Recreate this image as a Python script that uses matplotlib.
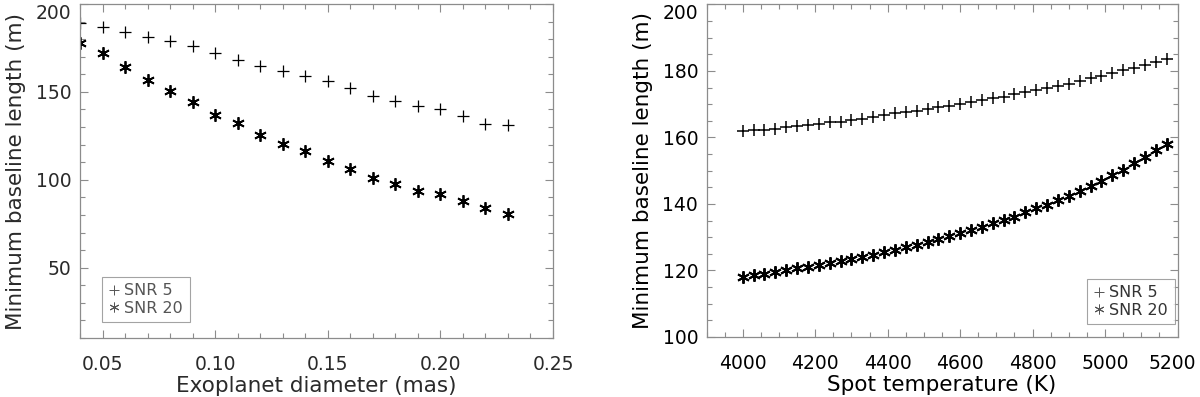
import matplotlib
matplotlib.use("Agg")
import matplotlib.pyplot as plt
from matplotlib.lines import Line2D
from matplotlib.ticker import MultipleLocator, FormatStrFormatter
from matplotlib.transforms import ScaledTranslation

# ---- data: left panel (exoplanet diameter) ----
diam_mas = [0.04, 0.05, 0.06, 0.07, 0.08, 0.09, 0.10, 0.11, 0.12, 0.13,
            0.14, 0.15, 0.16, 0.17, 0.18, 0.19, 0.20, 0.21, 0.22, 0.23]
diam_snr5 = [189.0, 187.1, 184.3, 181.4, 179.2, 176.0, 172.2, 168.2, 165.0, 161.9,
             159.3, 156.1, 152.1, 147.9, 144.7, 142.0, 140.2, 136.2, 132.0, 131.1]
diam_snr20 = [177.6, 172.0, 164.0, 156.8, 150.7, 144.1, 136.8, 132.2, 125.2, 120.3,
              116.1, 110.6, 105.9, 101.3, 97.4, 93.9, 92.0, 88.1, 83.9, 80.5]

# ---- data: right panel (spot temperature) ----
spot_temp = [4000, 4030, 4060, 4090, 4120, 4150, 4180, 4210, 4240, 4270,
             4300, 4330, 4360, 4390, 4420, 4450, 4480, 4510, 4540, 4570,
             4600, 4630, 4660, 4690, 4720, 4750, 4780, 4810, 4840, 4870,
             4900, 4930, 4960, 4990, 5020, 5050, 5080, 5110, 5140, 5170]
temp_snr5 = [161.8, 162.1, 162.3, 162.5, 163.0, 163.3, 163.8, 164.1, 164.5, 164.7,
             165.1, 165.4, 166.0, 166.6, 167.2, 167.6, 168.0, 168.6, 169.2, 169.5,
             170.2, 170.8, 171.3, 171.8, 172.3, 173.0, 173.7, 174.2, 174.9, 175.5,
             176.1, 177.0, 177.8, 178.5, 179.3, 180.3, 180.9, 181.9, 182.7, 183.7]
temp_snr20 = [118.1, 118.6, 119.0, 119.6, 120.1, 120.6, 121.1, 121.5, 122.1, 122.8,
              123.6, 124.1, 124.6, 125.6, 126.2, 127.0, 127.7, 128.7, 129.5, 130.3,
              131.2, 132.2, 133.2, 134.2, 135.3, 136.2, 137.5, 138.7, 139.8, 141.2,
              142.5, 144.0, 145.3, 147.0, 148.8, 150.3, 152.3, 154.1, 156.1, 158.1]

legend_labels = ["SNR 5", "SNR 20"]

plt.rcParams['font.family'] = ['DejaVu Sans']

fig = plt.figure(figsize=(12, 3.97), dpi=100)
ax1 = fig.add_axes([80/1200, 59/397, 473/1200, 334/397])
ax2 = fig.add_axes([706.5/1200, 60/397, 471/1200, 332.6/397])

STAR = (6, 2, 0)
axis_col = '#8c8c8c'
TFS = 13.5   # tick labels
LFS = 15.5   # axis labels


def style(ax, txtcol):
    for s in ax.spines.values():
        s.set_color(axis_col)
        s.set_linewidth(0.9)
    ax.tick_params(which='both', direction='in', top=True, right=True,
                   color=axis_col, width=0.8, labelcolor=txtcol)
    ax.tick_params(which='major', length=6)
    ax.tick_params(which='minor', length=3.5)
    ax.tick_params(axis='x', which='major', pad=12, labelsize=TFS)
    ax.tick_params(axis='y', which='major', pad=6, labelsize=TFS)


# ---- left panel ----
left_txt = '#2a2a2a'
ax1.plot(diam_mas, diam_snr5, linestyle='none', marker='+', markersize=8,
         markeredgewidth=0.9, color='black')
ax1.plot(diam_mas, diam_snr20, linestyle='none', marker=STAR, markersize=9,
         markeredgewidth=1.3, color='black')
ax1.set_xlim(0.04, 0.25)
ax1.set_ylim(10, 200)
ax1.xaxis.set_major_locator(MultipleLocator(0.05))
ax1.xaxis.set_minor_locator(MultipleLocator(0.01))
ax1.xaxis.set_major_formatter(FormatStrFormatter('%.2f'))
ax1.yaxis.set_major_locator(MultipleLocator(50))
ax1.yaxis.set_minor_locator(MultipleLocator(10))
ax1.set_yticks([50, 100, 150, 200])
style(ax1, left_txt)
ax1.set_xlabel('Exoplanet diameter (mas)', fontsize=LFS, color=left_txt, labelpad=2)
ax1.set_ylabel('Minimum baseline length (m)', fontsize=LFS, color=left_txt, labelpad=7)

# ---- right panel ----
ax2.plot(spot_temp, temp_snr5, linestyle='none', marker='+', markersize=8,
         markeredgewidth=1.1, color='black')
ax2.plot(spot_temp, temp_snr20, linestyle='none', marker=STAR, markersize=9,
         markeredgewidth=1.4, color='black')
ax2.set_xlim(3900, 5200)
ax2.set_ylim(100, 200)
ax2.xaxis.set_major_locator(MultipleLocator(200))
ax2.xaxis.set_minor_locator(MultipleLocator(50))
ax2.yaxis.set_major_locator(MultipleLocator(20))
ax2.yaxis.set_minor_locator(MultipleLocator(5))
style(ax2, 'black')
ax2.set_xlabel('Spot temperature (K)', fontsize=LFS, color='black', labelpad=2)
ax2.set_ylabel('Minimum baseline length (m)', fontsize=LFS, color='black', labelpad=7)

fig.canvas.draw()
for ax in (ax1, ax2):
    for lab in ax.get_yticklabels():
        if lab.get_text() == '200':
            lab.set_verticalalignment('top')
for lab in ax2.get_xticklabels():
    if lab.get_text() == '5200':
        lab.set_transform(lab.get_transform() +
                          ScaledTranslation(-5/100, 0, fig.dpi_scale_trans))


def add_legend(ax, bbox, col):
    handles = [Line2D([], [], linestyle='none', marker='+', markersize=7,
                      markeredgewidth=0.7, color='#555555'),
               Line2D([], [], linestyle='none', marker=(6, 2, 0), markersize=7,
                      markeredgewidth=0.7, color='#555555')]
    leg = ax.legend(handles, legend_labels, loc='lower left',
                    bbox_to_anchor=bbox, bbox_transform=fig.transFigure,
                    fontsize=11.5, frameon=True, fancybox=False,
                    handlelength=0.7, handletextpad=0.3, borderpad=0.4,
                    labelspacing=0.15, borderaxespad=0)
    leg.get_frame().set_edgecolor('#8c8c8c')
    leg.get_frame().set_linewidth(0.8)
    for t in leg.get_texts():
        t.set_color(col)
    return leg


add_legend(ax1, (102/1200, 1 - 322/397), '#555555')
add_legend(ax2, (1087/1200, 1 - 324/397), '#333333')

fig.savefig('out.png', dpi=100)
